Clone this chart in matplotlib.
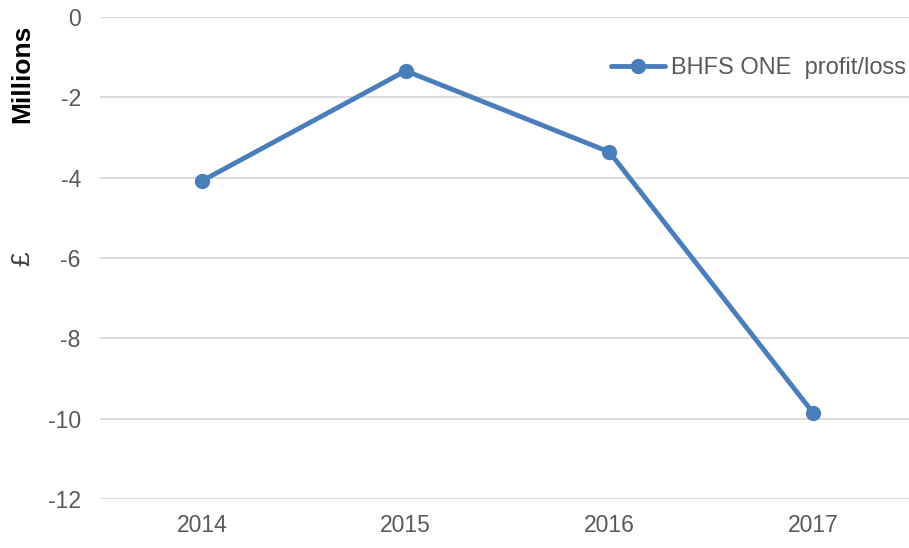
import matplotlib
matplotlib.use("Agg")
import matplotlib.pyplot as plt

years = ["2014", "2015", "2016", "2017"]
profit_loss = [-4.08, -1.34, -3.36, -9.85]
series_label = "BHFS ONE  profit/loss"
yticks = [0, -2, -4, -6, -8, -10, -12]

plt.rcParams['font.family'] = ['Liberation Sans', 'DejaVu Sans']

fig = plt.figure(figsize=(9.09, 5.48), dpi=100)
W, H = 909, 548
ax = fig.add_axes([100.2 / W, 1 - 499 / H, (914.8 - 100.2) / W, (499 - 17) / H])

x = list(range(len(years)))
color = "#4a7ebb"
ax.plot(x, profit_loss, color=color, lw=3.5, marker="o", ms=10, label=series_label,
        solid_capstyle="round", zorder=3)

ax.set_xlim(-0.5, 3.5)
ax.set_ylim(-12, 0)
ax.set_xticks(x)
ax.set_xticklabels(years)
ax.set_yticks(yticks)
ax.set_yticklabels([str(v) if v == 0 else "-" + str(abs(v)) for v in yticks])
ax.tick_params(axis="both", length=0, labelsize=16.5, colors="#595959")
ax.tick_params(axis="y", pad=14)
ax.tick_params(axis="x", pad=11)
ax.grid(axis="y", color="#d9d9d9", lw=1.3)
ax.set_axisbelow(True)
for s in ax.spines.values():
    s.set_visible(False)

fig.text(22 / W, 1 - 74 / H, "Millions", rotation=90, fontsize=19, fontweight="bold",
         ha="center", va="center", color="black")
fig.text(22 / W, 1 - 259 / H, "£", rotation=90, fontsize=19,
         ha="center", va="center", color="#404040")

leg = ax.legend(loc="center right", bbox_to_anchor=(906 / W, 1 - 68 / H), bbox_transform=fig.transFigure,
                frameon=False, fontsize=17, handlelength=2.3, handletextpad=0.25,
                borderaxespad=0, borderpad=0)
for t in leg.get_texts():
    t.set_color("#595959")

fig.savefig("out.png", dpi=100)
